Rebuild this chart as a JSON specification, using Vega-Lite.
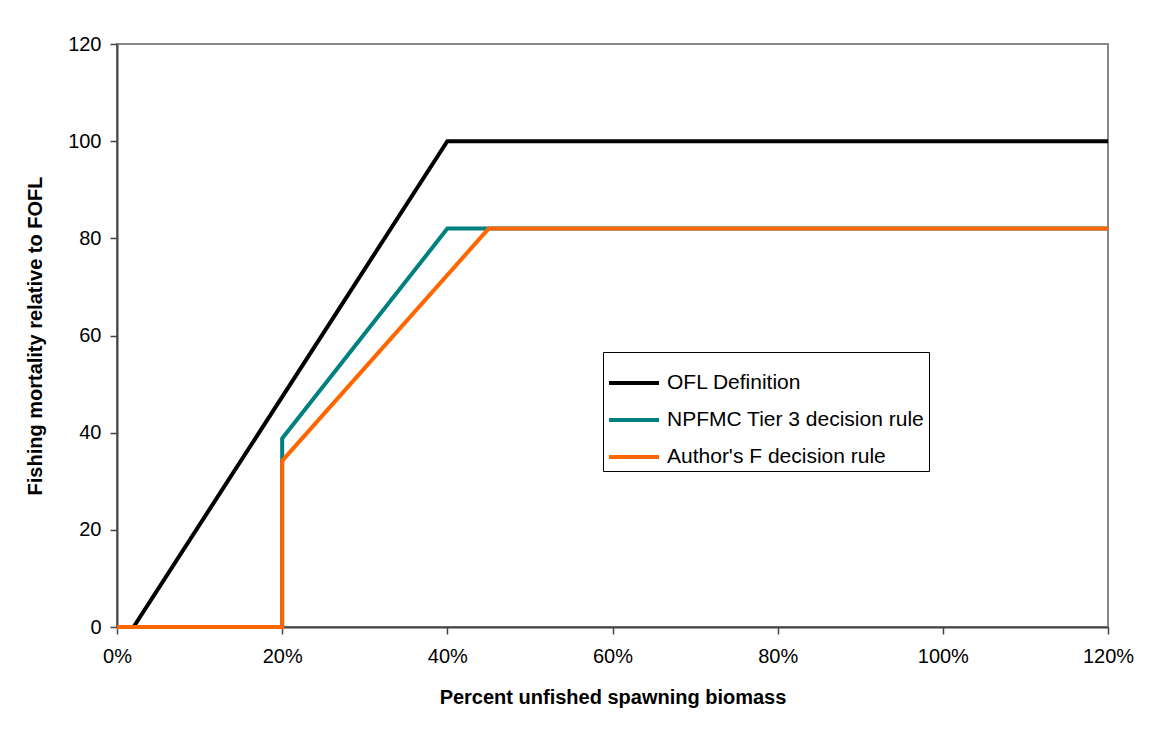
{
  "$schema": "https://vega.github.io/schema/vega-lite/v6.json",
  "width": 991,
  "height": 583,
  "autosize": "none",
  "padding": {"left": 117, "top": 44, "right": 48, "bottom": 102},
  "background": "white",
  "data": {
    "values": [
      {"series": "OFL Definition", "biomass": 0.0, "f": 0},
      {"series": "OFL Definition", "biomass": 0.02, "f": 0},
      {"series": "OFL Definition", "biomass": 0.4, "f": 100},
      {"series": "OFL Definition", "biomass": 1.2, "f": 100},
      {"series": "NPFMC Tier 3 decision rule", "biomass": 0.0, "f": 0},
      {"series": "NPFMC Tier 3 decision rule", "biomass": 0.2, "f": 0},
      {"series": "NPFMC Tier 3 decision rule", "biomass": 0.2, "f": 38.8},
      {"series": "NPFMC Tier 3 decision rule", "biomass": 0.4, "f": 82},
      {"series": "NPFMC Tier 3 decision rule", "biomass": 1.2, "f": 82},
      {"series": "Author's F decision rule", "biomass": 0.0, "f": 0},
      {"series": "Author's F decision rule", "biomass": 0.2, "f": 0},
      {"series": "Author's F decision rule", "biomass": 0.2, "f": 34.2},
      {"series": "Author's F decision rule", "biomass": 0.45, "f": 82},
      {"series": "Author's F decision rule", "biomass": 1.2, "f": 82}
    ]
  },
  "mark": {"type": "line", "strokeWidth": 4, "clip": false},
  "encoding": {
    "x": {
      "field": "biomass",
      "type": "quantitative",
      "scale": {"domain": [0, 1.2], "nice": false},
      "axis": {
        "values": [0, 0.2, 0.4, 0.6, 0.8, 1.0, 1.2],
        "format": ".0%",
        "title": "Percent unfished spawning biomass",
        "labelPadding": 12,
        "titlePadding": 21
      }
    },
    "y": {
      "field": "f",
      "type": "quantitative",
      "scale": {"domain": [0, 120], "nice": false},
      "axis": {
        "values": [0, 20, 40, 60, 80, 100, 120],
        "title": "Fishing mortality relative to FOFL",
        "labelPadding": 9,
        "titlePadding": 22
      }
    },
    "color": {
      "field": "series",
      "type": "nominal",
      "scale": {
        "domain": ["OFL Definition", "NPFMC Tier 3 decision rule", "Author's F decision rule"],
        "range": ["#000000", "#008080", "#FF6600"]
      },
      "legend": {
        "title": null,
        "orient": "none",
        "legendX": 486,
        "legendY": 308,
        "symbolType": "stroke",
        "symbolSize": 2500,
        "symbolStrokeWidth": 4,
        "labelFontSize": 21,
        "labelFont": "Liberation Sans",
        "labelColor": "#000000",
        "labelLimit": 400,
        "rowPadding": -13,
        "padding": 4,
        "strokeColor": "#000000",
        "fillColor": "white",
        "labelOffset": 6
      }
    },
    "order": {"field": "biomass"}
  },
  "config": {
    "view": {"stroke": "#888888", "strokeWidth": 2},
    "axis": {
      "grid": false,
      "labelFlush": false,
      "domainColor": "#444444",
      "domainWidth": 2,
      "tickColor": "#444444",
      "tickSize": 7,
      "tickWidth": 1.5,
      "labelFont": "Liberation Sans",
      "labelFontSize": 20,
      "labelColor": "#000000",
      "titleFont": "Liberation Sans",
      "titleFontSize": 20,
      "titleFontWeight": "bold",
      "titleColor": "#000000"
    }
  }
}
